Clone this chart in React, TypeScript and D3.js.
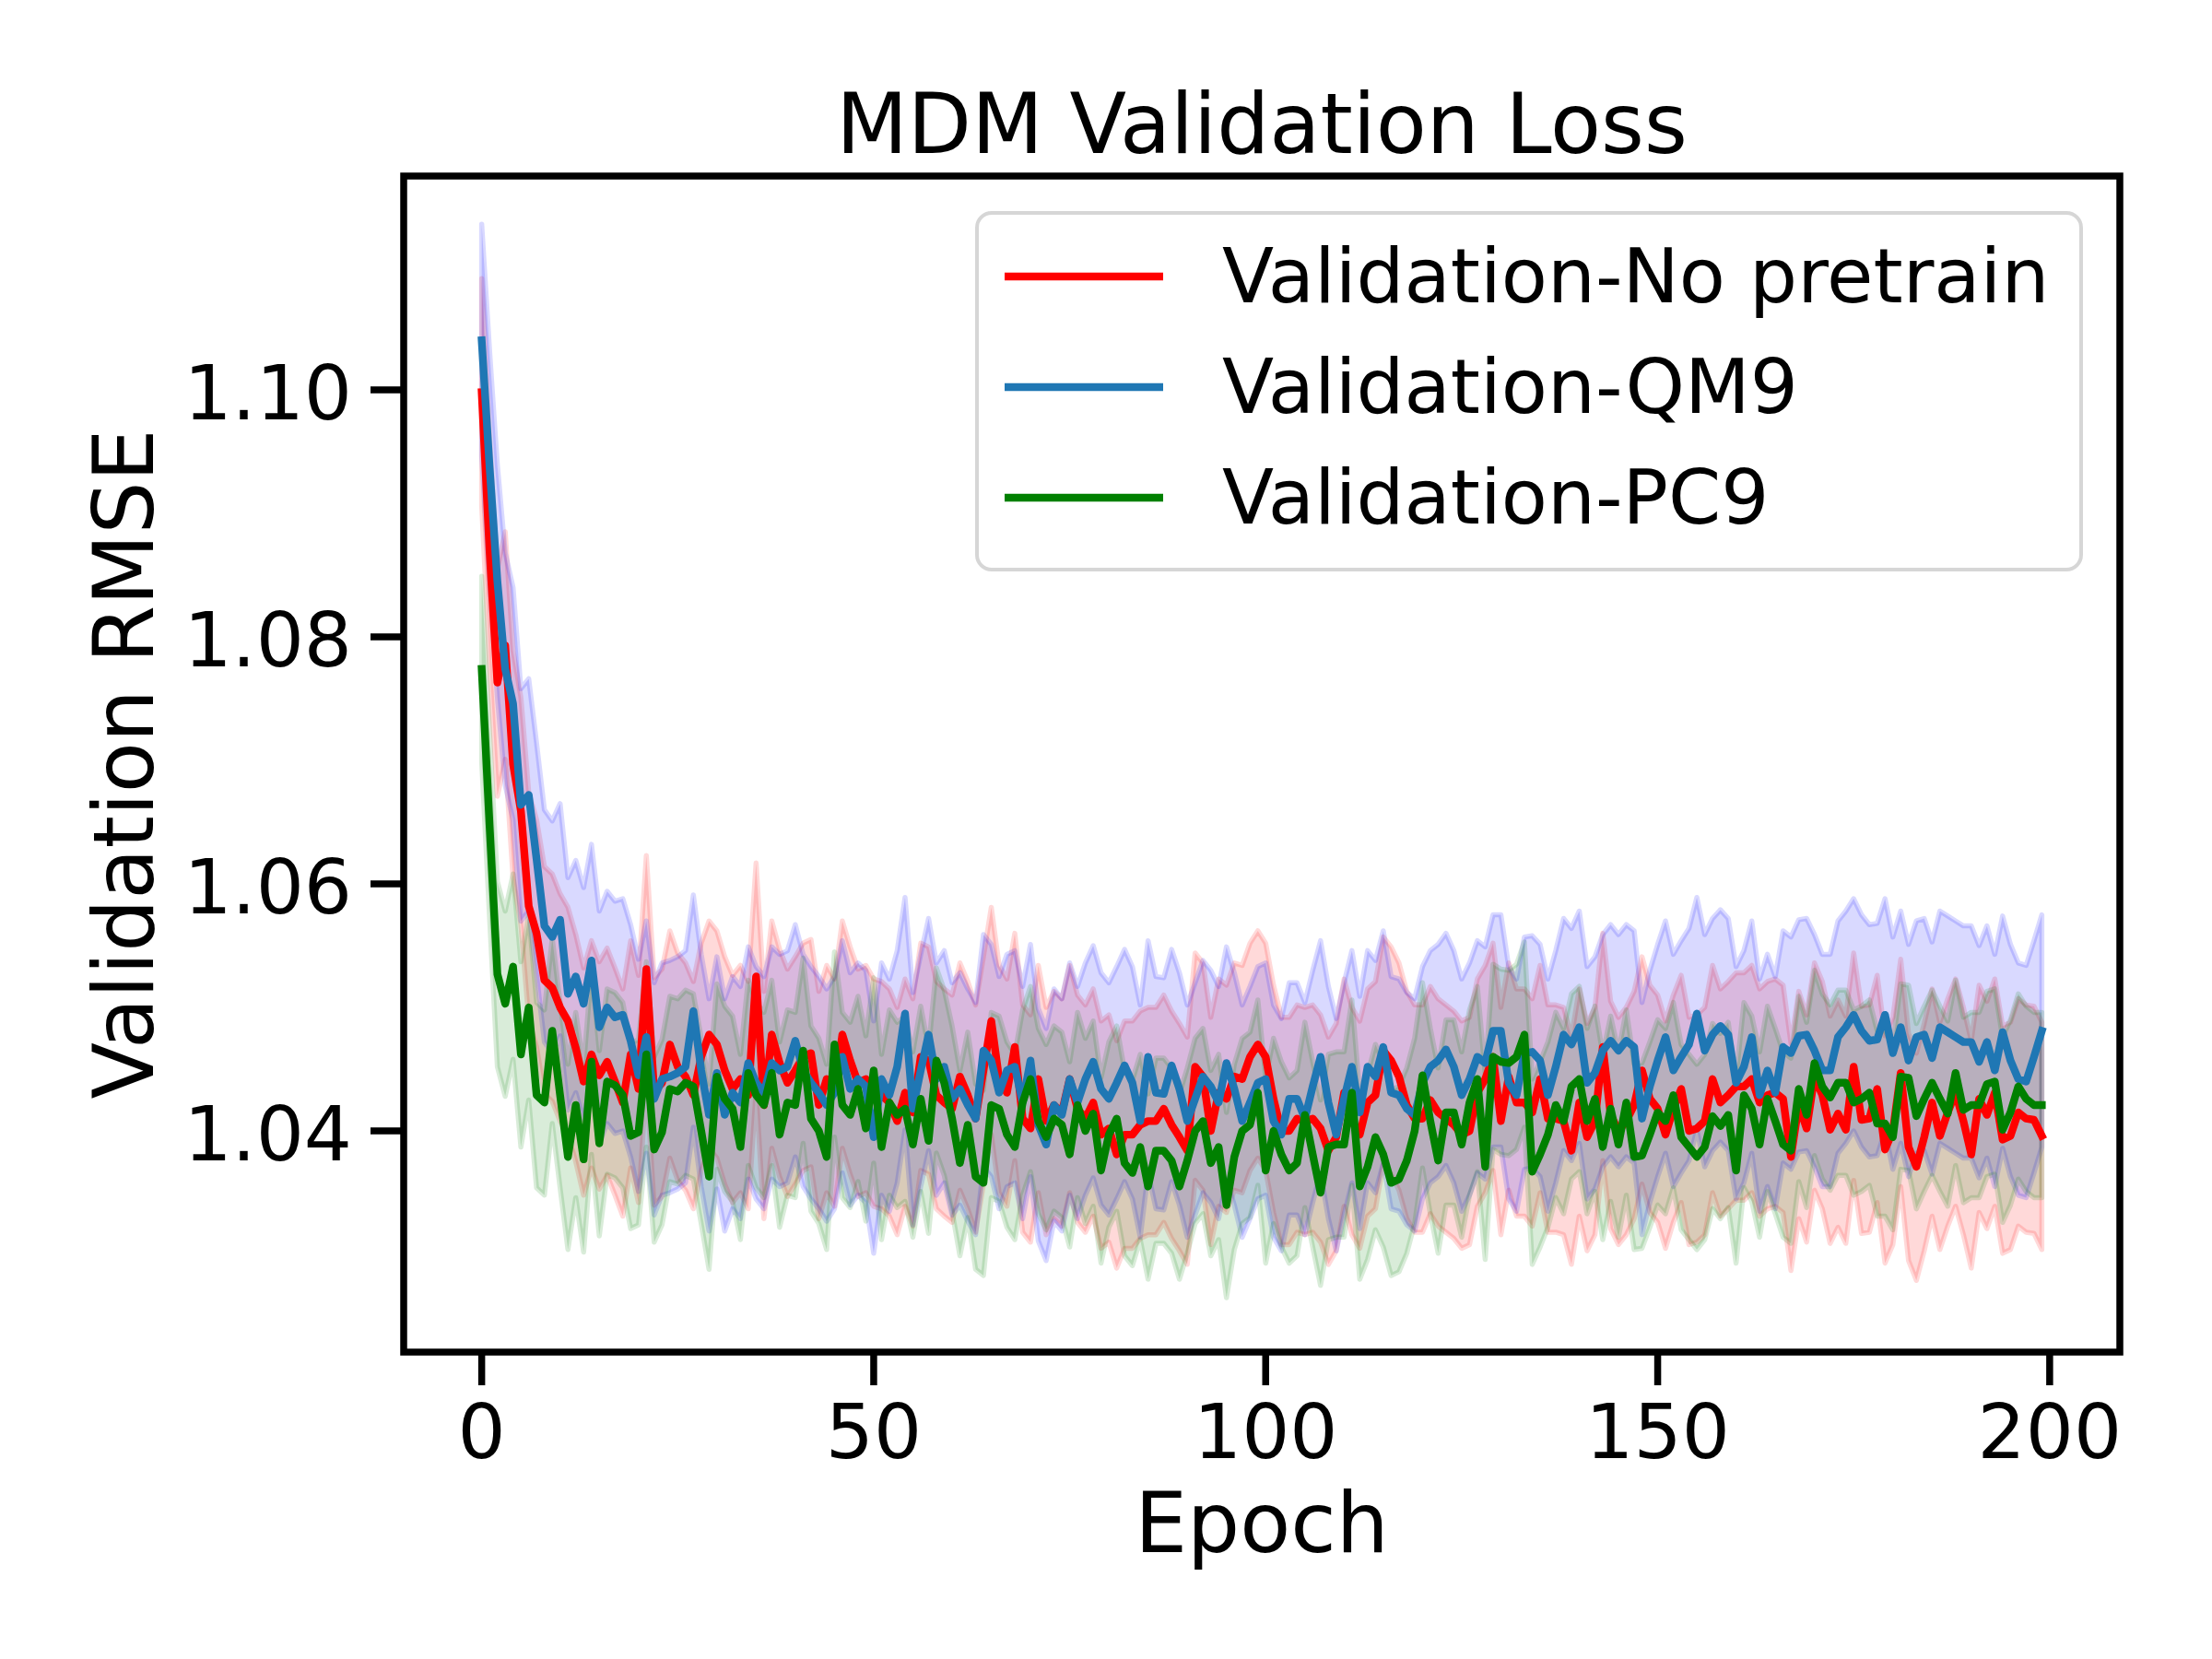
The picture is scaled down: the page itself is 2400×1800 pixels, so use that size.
import React from "react";
import * as d3 from "d3";

// mean validation RMSE per epoch (0..199)
const noPretrainMean = [
  1.0998, 1.087, 1.0763, 1.0793, 1.0697, 1.0659, 1.0582, 1.056, 1.0522, 1.0516,
  1.05, 1.0489, 1.0467, 1.044, 1.0462, 1.0445, 1.0456, 1.044, 1.0423, 1.0462,
  1.0434, 1.0531, 1.0432, 1.0439, 1.047, 1.0452, 1.0444, 1.0429, 1.046, 1.0478,
  1.047, 1.0449, 1.0434, 1.0442, 1.0429, 1.0525, 1.0421, 1.0478, 1.0455, 1.0439,
  1.0449, 1.046, 1.0463, 1.0421, 1.0442, 1.0431, 1.0478, 1.0457, 1.0439, 1.0442,
  1.0431, 1.0429, 1.0423, 1.0408, 1.0431, 1.0415, 1.046, 1.0457, 1.0429, 1.0423,
  1.0418, 1.0444, 1.0429, 1.041, 1.0449, 1.0489, 1.0442, 1.0431, 1.0468, 1.041,
  1.0402, 1.0442, 1.0408, 1.0421, 1.0415, 1.0442, 1.0418, 1.041, 1.0423, 1.0397,
  1.0402, 1.0381, 1.0397, 1.0397, 1.0405, 1.0408, 1.0408, 1.0418, 1.0405, 1.0395,
  1.0384, 1.0452, 1.0444, 1.04, 1.0431, 1.0426, 1.0444, 1.0442, 1.046, 1.047,
  1.046, 1.0426, 1.04, 1.04, 1.041, 1.0408, 1.041, 1.0402, 1.0384, 1.0395,
  1.0431, 1.0408, 1.0397, 1.0423, 1.0429, 1.0465, 1.0457, 1.0444, 1.0421, 1.041,
  1.041, 1.0425, 1.0415, 1.041, 1.0405, 1.0397, 1.04, 1.0431, 1.0442, 1.046,
  1.0408, 1.0444, 1.0423, 1.0423, 1.0415, 1.0442, 1.041, 1.041, 1.0408, 1.0384,
  1.0423, 1.0395, 1.0408, 1.0468, 1.0413, 1.04, 1.0408, 1.0421, 1.0449, 1.0426,
  1.0418, 1.0397, 1.0418, 1.0434, 1.04, 1.0402, 1.0408, 1.0442, 1.0423, 1.0429,
  1.0436, 1.0436, 1.0442, 1.0423, 1.0429, 1.0431, 1.0426, 1.0379, 1.0421, 1.0402,
  1.0444, 1.0429, 1.0401, 1.0414, 1.0401, 1.0452, 1.0409, 1.041, 1.0434, 1.0385,
  1.04, 1.0447, 1.0387, 1.0371, 1.0395, 1.0423, 1.0396, 1.0415, 1.0431, 1.0408,
  1.0381, 1.0426, 1.0413, 1.0431, 1.0393, 1.0396, 1.0415, 1.041, 1.0409, 1.0396,
];

const qm9Mean = [
  1.104, 1.0938, 1.0845, 1.0774, 1.0746, 1.0664, 1.0672, 1.062, 1.0566, 1.0557,
  1.0571, 1.0511, 1.0525, 1.0503, 1.0538, 1.0484, 1.05, 1.0492, 1.0494, 1.0473,
  1.0445, 1.0476, 1.0426, 1.0442, 1.0444, 1.0447, 1.0452, 1.0497, 1.0449, 1.0413,
  1.0447, 1.0413, 1.0431, 1.0423, 1.0455, 1.0439, 1.0431, 1.0455, 1.0449, 1.0452,
  1.0473, 1.0449, 1.0439, 1.0431, 1.0421, 1.0431, 1.046, 1.0434, 1.0442, 1.0436,
  1.0395, 1.0442, 1.0429, 1.0452, 1.0495, 1.0418, 1.0449, 1.0478, 1.0442, 1.0452,
  1.0426, 1.0434, 1.0421, 1.041, 1.0465, 1.0457, 1.0431, 1.0449, 1.0452, 1.0423,
  1.0457, 1.0405, 1.0389, 1.0421, 1.0413, 1.0442, 1.0423, 1.0442, 1.0456, 1.0434,
  1.0426, 1.0439, 1.0453, 1.0439, 1.0408, 1.046, 1.0431, 1.043, 1.0453, 1.0434,
  1.0408, 1.0426, 1.0444, 1.0436, 1.0423, 1.0455, 1.0434, 1.0408, 1.0423, 1.0439,
  1.0442, 1.0408, 1.0397, 1.0426, 1.0426, 1.041, 1.0436, 1.046, 1.0423, 1.0397,
  1.0426, 1.0452, 1.0415, 1.0452, 1.0444, 1.0468, 1.0431, 1.0429, 1.0418, 1.0413,
  1.0439, 1.0452, 1.0457, 1.0466, 1.0452, 1.0429, 1.0442, 1.046, 1.0455, 1.0481,
  1.0481, 1.0439, 1.0429, 1.0463, 1.0464, 1.0457, 1.0429, 1.0452, 1.0478, 1.047,
  1.0484, 1.0439, 1.0447, 1.0465, 1.0473, 1.0465, 1.0473, 1.0468, 1.041, 1.0436,
  1.0457, 1.0476, 1.0449, 1.046, 1.047, 1.0495, 1.0465, 1.0478, 1.0485, 1.0478,
  1.0439, 1.0452, 1.0476, 1.0429, 1.0449, 1.0431, 1.0468, 1.0463, 1.0477, 1.0478,
  1.0465, 1.0449, 1.0449, 1.0476, 1.0484, 1.0494, 1.0481, 1.0473, 1.0474, 1.0494,
  1.0463, 1.0484, 1.0457, 1.0476, 1.0478, 1.0459, 1.0484, 1.048, 1.0476, 1.0472,
  1.0472, 1.0456, 1.0472, 1.0449, 1.048, 1.0457, 1.0442, 1.044, 1.046, 1.0481,
];

const pc9Mean = [
  1.0774, 1.0648, 1.0527, 1.0503, 1.0533, 1.0462, 1.05, 1.0429, 1.0423, 1.0481,
  1.0429, 1.0379, 1.0421, 1.0377, 1.0456, 1.039, 1.044, 1.0437, 1.0429, 1.0396,
  1.0399, 1.0462, 1.0385, 1.0399, 1.0434, 1.0432, 1.0439, 1.0436, 1.04, 1.0363,
  1.0444, 1.0426, 1.0418, 1.0387, 1.0447, 1.0429, 1.0421, 1.0447, 1.0397, 1.0423,
  1.0421, 1.0465, 1.041, 1.04, 1.0379, 1.047, 1.0421, 1.0413, 1.0434, 1.0402,
  1.0449, 1.0387, 1.0423, 1.0413, 1.0418, 1.0389, 1.0426, 1.0392, 1.0457, 1.0439,
  1.041, 1.0374, 1.0405, 1.0363, 1.0358, 1.0421, 1.0418, 1.0397, 1.0387, 1.0423,
  1.0442, 1.0408, 1.0395, 1.041, 1.0405, 1.0381, 1.0421, 1.04, 1.0414, 1.0368,
  1.0397, 1.041, 1.0374, 1.0366, 1.0387, 1.0355, 1.0384, 1.0384, 1.0376, 1.0355,
  1.0376, 1.04, 1.0408, 1.0374, 1.0387, 1.034, 1.0379, 1.04, 1.0405, 1.0431,
  1.0368, 1.04, 1.0381, 1.0368, 1.0374, 1.0413, 1.0381, 1.035, 1.0387, 1.0389,
  1.0389, 1.0431, 1.0355, 1.0371, 1.0395, 1.0381, 1.0358, 1.0361, 1.0376, 1.04,
  1.0445, 1.0408, 1.0376, 1.0415, 1.0415, 1.0389, 1.0423, 1.0442, 1.0371, 1.046,
  1.0456, 1.0455, 1.046, 1.0478, 1.0367, 1.0381, 1.0397, 1.0421, 1.0408, 1.0436,
  1.0442, 1.0408, 1.0426, 1.0387, 1.0418, 1.0389, 1.0423, 1.0379, 1.038, 1.0397,
  1.0415, 1.0408, 1.0429, 1.0395, 1.0387, 1.0379, 1.0387, 1.0412, 1.0404, 1.0413,
  1.0368, 1.0429, 1.0418, 1.0389, 1.0426, 1.0408, 1.0389, 1.0384, 1.0434, 1.0413,
  1.0455, 1.0436, 1.0427, 1.0439, 1.0439, 1.0423, 1.0426, 1.0431, 1.0406, 1.0406,
  1.0395, 1.0444, 1.0443, 1.0412, 1.0426, 1.0439, 1.0426, 1.0414, 1.0447, 1.0417,
  1.0421, 1.0421, 1.0438, 1.044, 1.0401, 1.0415, 1.0436, 1.0426, 1.0421, 1.0421,
];

// half-width of the shaded band around each mean (std), roughly constant in the figure
const noPretrainSpread = 0.0092;
const qm9Spread = 0.0094;
const pc9Spread = 0.0075;

const seriesLabels = ["Validation-No pretrain", "Validation-QM9", "Validation-PC9"];
const lineColors = ["#ff0000", "#1f77b4", "#008000"];
const bandColors = ["#ff0000", "#0000ff", "#008000"];

const xTicks = [0, 50, 100, 150, 200];
const yTicks = [1.04, 1.06, 1.08, 1.1];

const xDomain = [-9.95, 208.95];
const yDomain = [1.0221, 1.1173];

const W = 2400;
const H = 1800;
const plot = { left: 438, right: 2300, top: 191, bottom: 1467 };
const font = "'DejaVu Sans', Verdana, sans-serif";

const App: React.FC = () => {
  const series = [
    { label: seriesLabels[0], mean: noPretrainMean, spread: noPretrainSpread, line: lineColors[0], band: bandColors[0] },
    { label: seriesLabels[1], mean: qm9Mean, spread: qm9Spread, line: lineColors[1], band: bandColors[1] },
    { label: seriesLabels[2], mean: pc9Mean, spread: pc9Spread, line: lineColors[2], band: bandColors[2] },
  ];

  const xScale = d3.scaleLinear().domain(xDomain).range([plot.left, plot.right]);
  const yScale = d3.scaleLinear().domain(yDomain).range([plot.bottom, plot.top]);

  const lineGen = d3
    .line<number>()
    .x((_, i) => xScale(i))
    .y((d) => yScale(d));

  const bandGen = (spread: number) =>
    d3
      .area<number>()
      .x((_, i) => xScale(i))
      .y0((d) => yScale(d - spread))
      .y1((d) => yScale(d + spread));

  const tickLen = 36;
  const axisWidth = 7.5;
  const tickFont = 82;
  const labelFont = 90;

  // legend geometry
  const legend = { x: 1060, y: 231, w: 1198, h: 387 };
  const rowY = [300, 420, 540];

  return (
    <div>
      <style>{`body{margin:0}`}</style>
      <svg width={W} height={H} style={{ display: "block", background: "white" }}>
        {/* shaded bands */}
        {series.map((s) => (
          <path
            key={`band-${s.label}`}
            d={bandGen(s.spread)(s.mean) ?? ""}
            fill={s.band}
            fillOpacity={0.15}
            stroke={s.band}
            strokeOpacity={0.15}
            strokeWidth={5.5}
            strokeLinejoin="round"
          />
        ))}

        {/* mean lines */}
        {series.map((s) => (
          <path
            key={`line-${s.label}`}
            d={lineGen(s.mean) ?? ""}
            fill="none"
            stroke={s.line}
            strokeWidth={8.4}
            strokeLinejoin="round"
            strokeLinecap="square"
          />
        ))}

        {/* frame */}
        <rect
          x={plot.left}
          y={plot.top}
          width={plot.right - plot.left}
          height={plot.bottom - plot.top}
          fill="none"
          stroke="black"
          strokeWidth={axisWidth}
        />

        {/* x ticks */}
        {xTicks.map((t) => (
          <g key={`x-${t}`}>
            <line
              x1={xScale(t)}
              x2={xScale(t)}
              y1={plot.bottom}
              y2={plot.bottom + tickLen}
              stroke="black"
              strokeWidth={axisWidth}
            />
            <text
              x={xScale(t)}
              y={1582}
              textAnchor="middle"
              fontFamily={font}
              fontSize={tickFont}
              fill="black"
            >
              {t}
            </text>
          </g>
        ))}

        {/* y ticks */}
        {yTicks.map((t) => (
          <g key={`y-${t}`}>
            <line
              x1={plot.left - tickLen}
              x2={plot.left}
              y1={yScale(t)}
              y2={yScale(t)}
              stroke="black"
              strokeWidth={axisWidth}
            />
            <text
              x={382}
              y={yScale(t) + 32}
              textAnchor="end"
              fontFamily={font}
              fontSize={tickFont}
              fill="black"
            >
              {t.toFixed(2)}
            </text>
          </g>
        ))}

        {/* title and axis labels */}
        <text
          x={(plot.left + plot.right) / 2}
          y={166}
          textAnchor="middle"
          fontFamily={font}
          fontSize={labelFont}
          fill="black"
        >
          MDM Validation Loss
        </text>
        <text
          x={(plot.left + plot.right) / 2}
          y={1684}
          textAnchor="middle"
          fontFamily={font}
          fontSize={labelFont}
          fill="black"
        >
          Epoch
        </text>
        <text
          transform={`translate(166, ${(plot.top + plot.bottom) / 2}) rotate(-90)`}
          textAnchor="middle"
          fontFamily={font}
          fontSize={labelFont}
          fill="black"
        >
          Validation RMSE
        </text>

        {/* legend */}
        <rect
          x={legend.x}
          y={legend.y}
          width={legend.w}
          height={legend.h}
          rx={16}
          ry={16}
          fill="white"
          fillOpacity={0.8}
          stroke="#cccccc"
          strokeOpacity={0.8}
          strokeWidth={4}
        />
        {series.map((s, i) => (
          <g key={`legend-${s.label}`}>
            <line
              x1={1090}
              x2={1262}
              y1={rowY[i]}
              y2={rowY[i]}
              stroke={s.line}
              strokeWidth={8.4}
            />
            <text
              x={1326}
              y={rowY[i] + 28}
              fontFamily={font}
              fontSize={tickFont}
              fill="black"
            >
              {s.label}
            </text>
          </g>
        ))}
      </svg>
    </div>
  );
};

export default App;
